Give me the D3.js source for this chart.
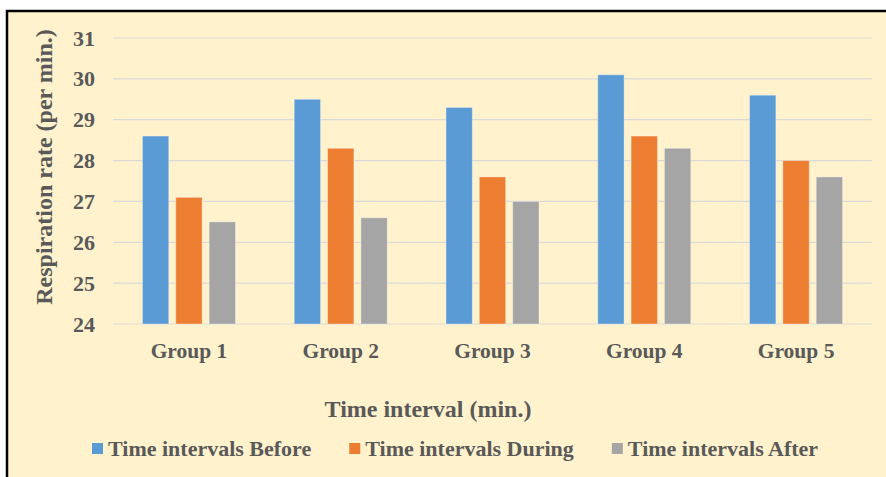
<!DOCTYPE html>
<html lang="en">
<head>
  <meta charset="UTF-8">
  <title>Respiration rate by group</title>
  <script src="https://d3js.org/d3.v7.min.js"></script>
  <style>
    body {
      margin: 0;
      background: #ffffff;
    }
    svg text {
      font-family: "Liberation Serif", "Times New Roman", serif;
      font-weight: bold;
      fill: #595959;
    }
    .grid line {
      stroke: #d9d9d9;
      stroke-width: 1.2;
    }
  </style>
</head>
<body>
  <script>
    // chart data
    const groups = ["Group 1", "Group 2", "Group 3", "Group 4", "Group 5"];
    const seriesNames = ["Time intervals Before", "Time intervals During", "Time intervals After"];
    const before = [28.6, 29.5, 29.3, 30.1, 29.6];
    const during = [27.1, 28.3, 27.6, 28.6, 28.0];
    const after = [26.5, 26.6, 27.0, 28.3, 27.6];
    const yTicks = [24, 25, 26, 27, 28, 29, 30, 31];
    const colors = ["#5b9bd5", "#ed7d31", "#a5a5a5"];

    const width = 886;
    const height = 477;
    const plot = { left: 113, right: 872, top: 38, bottom: 324 };

    const seriesValues = [before, during, after];
    const rows = groups.map((g, i) => ({
      group: g,
      values: seriesNames.map((s, k) => ({ series: s, value: seriesValues[k][i] }))
    }));

    const svg = d3.select("body").append("svg")
      .attr("width", width)
      .attr("height", height);

    // panel with black border (only top and left show in the frame)
    svg.append("rect")
      .attr("x", 7)
      .attr("y", 11)
      .attr("width", width + 20)
      .attr("height", height + 20)
      .attr("fill", "#fff2cc")
      .attr("stroke", "#000")
      .attr("stroke-width", 2.5);

    const x0 = d3.scaleBand()
      .domain(groups)
      .range([plot.left, plot.right])
      .paddingInner(0.387)
      .paddingOuter(0.194);

    const x1 = d3.scaleBand()
      .domain(seriesNames)
      .range([0, x0.bandwidth()])
      .paddingInner(0.21);

    const y = d3.scaleLinear()
      .domain([24, 31])
      .range([plot.bottom, plot.top]);

    // gridlines
    svg.append("g")
      .attr("class", "grid")
      .selectAll("line")
      .data(yTicks)
      .join("line")
      .attr("x1", plot.left)
      .attr("x2", plot.right)
      .attr("y1", d => y(d))
      .attr("y2", d => y(d));

    // y axis labels
    const yAxis = svg.append("g")
      .attr("transform", `translate(${plot.left},0)`)
      .call(d3.axisLeft(y).tickValues(yTicks).tickFormat(d3.format("d")).tickSize(0).tickPadding(18));
    yAxis.select(".domain").remove();
    yAxis.selectAll("text")
      .attr("font-size", 22)
      .attr("font-family", null)
      .attr("fill", null);

    // bars
    const groupG = svg.append("g")
      .selectAll("g")
      .data(rows)
      .join("g")
      .attr("transform", d => `translate(${x0(d.group)},0)`);

    groupG.selectAll("rect")
      .data(d => d.values)
      .join("rect")
      .attr("x", d => x1(d.series))
      .attr("y", d => y(d.value))
      .attr("width", x1.bandwidth())
      .attr("height", d => y(24) - y(d.value))
      .attr("fill", (d, i) => colors[i])
      .attr("stroke", "#ffffff")
      .attr("stroke-opacity", 0.35)
      .attr("stroke-width", 1);

    // x axis labels
    const xAxis = svg.append("g")
      .attr("transform", `translate(0,${plot.bottom})`)
      .call(d3.axisBottom(x0).tickSize(0).tickPadding(19));
    xAxis.select(".domain").remove();
    xAxis.selectAll("text")
      .attr("font-size", 21.5)
      .attr("font-family", null)
      .attr("fill", null);

    // axis titles
    svg.append("text")
      .attr("x", 428)
      .attr("y", 417)
      .attr("text-anchor", "middle")
      .attr("font-size", 24)
      .text("Time interval (min.)");

    svg.append("text")
      .attr("transform", "translate(52,167) rotate(-90)")
      .attr("text-anchor", "middle")
      .attr("font-size", 24)
      .text("Respiration rate (per min.)");

    // legend
    const legend = svg.append("g");
    let lx = 92;
    seriesNames.forEach((s, i) => {
      legend.append("rect")
        .attr("x", lx)
        .attr("y", 443)
        .attr("width", 11)
        .attr("height", 11)
        .attr("fill", colors[i]);
      const t = legend.append("text")
        .attr("x", lx + 16)
        .attr("y", 456)
        .attr("font-size", 22)
        .text(s);
      lx += 16 + t.node().getComputedTextLength() + 38;
    });
  </script>
</body>
</html>
